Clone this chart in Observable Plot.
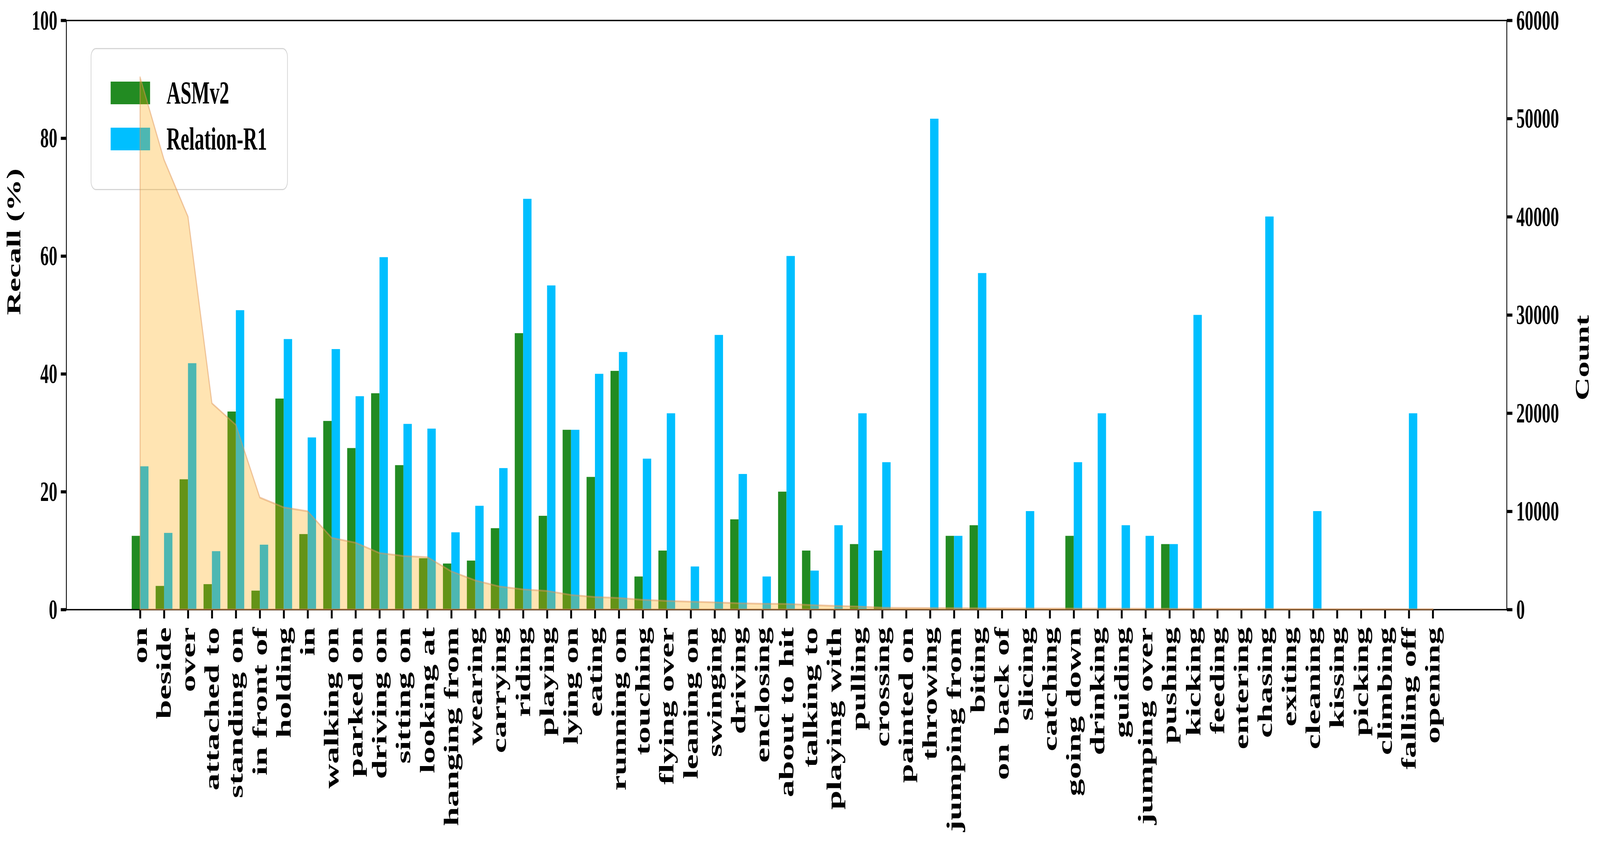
<!DOCTYPE html>
<html>
<head>
<meta charset="utf-8">
<script src="https://cdn.jsdelivr.net/npm/d3@7"></script>
<script src="https://cdn.jsdelivr.net/npm/@observablehq/plot@0.6"></script>
<style>
  html, body { margin: 0; padding: 0; background: #fff; overflow: hidden; }
  #wrap { position: relative; width: 6738px; height: 2177px; transform-origin: 0 0;
          font-family: 'Liberation Serif', 'Times New Roman', serif; font-weight: bold; }
  #wrap > svg { position: absolute; left: 0; top: 0; max-width: none !important; }
  #legend { position: absolute; left: 382px; top: 123px; width: 830px; height: 364px; box-sizing: border-box;
            border: 3.5px solid #d6d6d6; border-radius: 22px; background: rgba(255,255,255,0.8); }
  .sw { position: absolute; left: 81px; width: 166px; height: 58px; }
  .lt { position: absolute; left: 316px; height: 58px; line-height: 58px; font-size: 82px; font-weight: bold; white-space: nowrap; color: #000; }
</style>
</head>
<body>
<div id="wrap"></div>
<script>
const categories = ["on","beside","over","attached to","standing on","in front of","holding","in","walking on","parked on",
  "driving on","sitting on","looking at","hanging from","wearing","carrying","riding","playing","lying on","eating",
  "running on","touching","flying over","leaning on","swinging","driving","enclosing","about to hit","talking to","playing with",
  "pulling","crossing","painted on","throwing","jumping from","biting","on back of","slicing","catching","going down",
  "drinking","guiding","jumping over","pushing","kicking","feeding","entering","chasing","exiting","cleaning",
  "kissing","picking","climbing","falling off","opening"];

const asmv2 = [12.5, 4.0, 22.1, 4.3, 33.6, 3.2, 35.8, 12.8, 32.0, 27.4,
  36.7, 24.5, 8.7, 7.8, 8.3, 13.8, 46.9, 15.9, 30.5, 22.5,
  40.5, 5.6, 10.0, 0, 0, 15.3, 0, 20.0, 10.0, 0,
  11.1, 10.0, 0, 0, 12.5, 14.3, 0, 0, 0, 12.5,
  0, 0, 0, 11.1, 0, 0, 0, 0, 0, 0,
  0, 0, 0, 0, 0];

const relationR1 = [24.3, 13.0, 41.8, 9.9, 50.8, 11.0, 45.9, 29.2, 44.2, 36.2,
  59.8, 31.5, 30.7, 13.1, 17.6, 24.0, 69.7, 55.0, 30.5, 40.0,
  43.7, 25.6, 33.3, 7.3, 46.6, 23.0, 5.6, 60.0, 6.6, 14.3,
  33.3, 25.0, 0, 83.3, 12.5, 57.1, 0, 16.7, 0, 25.0,
  33.3, 14.3, 12.5, 11.1, 50.0, 0, 0, 66.7, 0, 16.7,
  0, 0, 0, 33.3, 0];

const counts = [54200, 45800, 40000, 21000, 18800, 11400, 10400, 10000, 7300, 6800,
  5750, 5450, 5330, 3880, 2960, 2350, 2050, 1890, 1480, 1270,
  1170, 980, 870, 800, 730, 640, 590, 570, 460, 365,
  300, 185, 160, 150, 140, 130, 120, 110, 100, 95,
  90, 85, 80, 75, 70, 65, 60, 56, 52, 48,
  44, 40, 36, 32, 28];

const recallTicks = [0, 20, 40, 60, 80, 100];
const countTicks = [0, 10000, 20000, 30000, 40000, 50000, 60000];
const seriesNames = ["ASMv2", "Relation-R1"];
const seriesColors = ["#228B22", "#00BFFF"];
const barWidth = 0.35;

const rows = categories.map((c, i) => ({i, c, a: asmv2[i], r: relationR1[i], n: counts[i]}));

const W = 6738, H = 2177;
const margins = {marginLeft: 279, marginRight: 393, marginTop: 52, marginBottom: 616};
const span = categories.length - 1 + 2 * barWidth;
const xDomain = [-barWidth - 0.05 * span, categories.length - 1 + barWidth + 0.05 * span];
const font = "'Liberation Serif', 'Times New Roman', serif";

const p1 = Plot.plot({
  width: W, height: H, ...margins,
  style: {fontFamily: font, fontWeight: "bold", background: "white", overflow: "visible"},
  x: {type: "linear", domain: xDomain},
  y: {domain: [0, 100]},
  marks: [
    Plot.rect(rows, {x1: d => d.i - barWidth, x2: d => d.i, y1: 0, y2: "a", fill: seriesColors[0]}),
    Plot.rect(rows, {x1: d => d.i, x2: d => d.i + barWidth, y1: 0, y2: "r", fill: seriesColors[1]}),
    Plot.axisY({ticks: recallTicks, tickSize: 23, tickPadding: 15, fontSize: 72, strokeWidth: 8, label: null, fontWeight: "bold"}),
    Plot.axisX({ticks: rows.map(d => d.i), tickSize: 23, strokeWidth: 8, tickFormat: () => "", label: null}),
    Plot.text(rows, {x: "i", text: "c", frameAnchor: "bottom", rotate: -90, textAnchor: "end", lineAnchor: "middle", dy: 45, fontSize: 88, fontWeight: "bold", fill: "black"}),
    Plot.text(["Recall (%)"], {frameAnchor: "left", dx: -221, rotate: -90, fontSize: 82, fontWeight: "bold", fill: "black"}),
    Plot.frame({stroke: "black", strokeWidth: 3.5})
  ]
});

const p2 = Plot.plot({
  width: W, height: H, ...margins,
  style: {fontFamily: font, fontWeight: "bold", background: "transparent", overflow: "visible"},
  x: {type: "linear", domain: xDomain, axis: null},
  y: {domain: [0, 60000], axis: null},
  marks: [
    Plot.areaY(rows, {x: "i", y1: 0, y2: "n", fill: "orange", fillOpacity: 0.3, stroke: "#E0955A", strokeOpacity: 0.5, strokeWidth: 4.5}),
    Plot.axisY({anchor: "right", ticks: countTicks, tickFormat: d => String(d), tickSize: 23, tickPadding: 17, fontSize: 72, strokeWidth: 8, label: null, fontWeight: "bold"}),
    Plot.text(["Count"], {frameAnchor: "right", dx: 319, rotate: -90, fontSize: 82, fontWeight: "bold", fill: "black"})
  ]
});

const wrap = document.getElementById("wrap");
wrap.appendChild(p1);

const legend = document.createElement("div");
legend.id = "legend";
seriesNames.forEach((name, k) => {
  const top = 86 - 3.5 + k * 118;
  const sw = document.createElement("div");
  sw.className = "sw";
  sw.style.top = top + "px";
  sw.style.background = seriesColors[k];
  const t = document.createElement("div");
  t.className = "lt";
  t.style.top = top + "px";
  t.textContent = name;
  legend.appendChild(sw);
  legend.appendChild(t);
});
wrap.appendChild(legend);
wrap.appendChild(p2);

// The sandbox window may be narrower than the 6738px design; fit the whole figure into it.
function fit() {
  const sx = Math.min(1, (window.innerWidth || W) / W);
  const sy = Math.min(1, (window.innerHeight || H) / H);
  wrap.style.transform = (sx < 1 || sy < 1) ? `scale(${sx}, ${sy})` : "none";
}
fit();
window.addEventListener("resize", fit);
</script>
</body>
</html>
